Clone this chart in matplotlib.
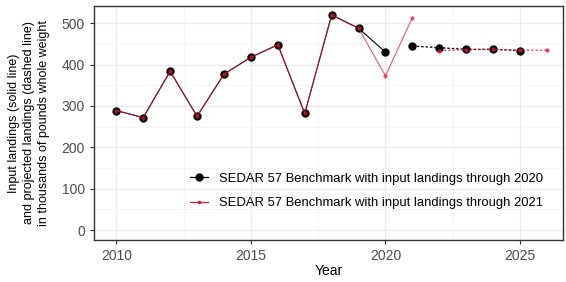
import matplotlib
matplotlib.use("Agg")
import matplotlib.pyplot as plt
from matplotlib.lines import Line2D
from matplotlib.ticker import MultipleLocator

plt.rcParams['font.family'] = ['Liberation Sans', 'DejaVu Sans']

# --- data --------------------------------------------------------------
yrs_in_20 = [2010, 2011, 2012, 2013, 2014, 2015, 2016, 2017, 2018, 2019, 2020]
land_in_20 = [289, 272, 384, 275, 377, 418, 448, 282, 520, 488, 430]
yrs_pr_20 = [2021, 2022, 2023, 2024, 2025]
land_pr_20 = [445, 441, 437, 437, 434]

yrs_in_21 = [2010, 2011, 2012, 2013, 2014, 2015, 2016, 2017, 2018, 2019, 2020, 2021]
land_in_21 = [289, 272, 384, 275, 377, 418, 448, 282, 520, 488, 373, 514]
yrs_pr_21 = [2022, 2023, 2024, 2025, 2026]
land_pr_21 = [434, 436, 437, 435, 435]

labels = ["SEDAR 57 Benchmark with input landings through 2020",
          "SEDAR 57 Benchmark with input landings through 2021"]

BLACK = '#000000'
RED = '#dc143c'
GRID = '#ebebeb'

fig = plt.figure(figsize=(5.66, 2.82), dpi=100)
ax = fig.add_axes([0.166, 0.149, 0.829, 0.830])

# black series (through 2020)
ax.plot(yrs_in_20, land_in_20, color=BLACK, lw=0.8, marker='o', ms=5.0, zorder=3)
ax.plot(yrs_pr_20, land_pr_20, color=BLACK, lw=0.9, ls=(0, (2, 1.5)),
        marker='o', ms=5.0, zorder=3)

# red series (through 2021)
ax.plot(yrs_in_21, land_in_21, color=RED, lw=0.8, marker='o', ms=3.0,
        mew=0, alpha=0.7, zorder=4)
ax.plot(yrs_pr_21, land_pr_21, color=RED, lw=0.9, ls=(0, (2, 1.5)),
        marker='o', ms=3.0, mew=0, alpha=0.8, zorder=4)

ax.set_xlim(2009.17, 2026.6)
ax.set_ylim(-24, 542)
ax.xaxis.set_major_locator(MultipleLocator(5))
ax.xaxis.set_minor_locator(MultipleLocator(2.5))
ax.yaxis.set_major_locator(MultipleLocator(100))
ax.yaxis.set_minor_locator(MultipleLocator(50))
ax.grid(True, which='major', color=GRID, lw=0.9, zorder=0)
ax.grid(True, which='minor', color='#f4f4f4', lw=0.6, zorder=0)
ax.set_axisbelow(True)

for s in ax.spines.values():
    s.set_color('#333333')
    s.set_linewidth(1.0)

ax.tick_params(axis='both', which='major', labelsize=10, labelcolor='#4d4d4d',
               color='#333333', length=3, width=0.8)
ax.tick_params(axis='both', which='minor', length=0)

ax.set_xlabel("Year", fontsize=10, labelpad=1)
ax.set_ylabel("Input landings (solid line)\nand projected landings (dashed line)\n"
              "in thousands of pounds whole weight", fontsize=9.0,
              linespacing=1.3)
ax.yaxis.set_label_coords(-0.094, 0.5)

handles = [Line2D([], [], color=BLACK, lw=0.9, marker='o', ms=5.0),
           Line2D([], [], color=RED, lw=0.9, marker='o', ms=2.5, mew=0)]
ax.legend(handles, labels, loc='center left', bbox_to_anchor=(0.18, 0.21),
          frameon=False, fontsize=9.4, handlelength=1.4, handletextpad=0.8,
          labelspacing=0.95)

fig.savefig("out.png", dpi=100)
